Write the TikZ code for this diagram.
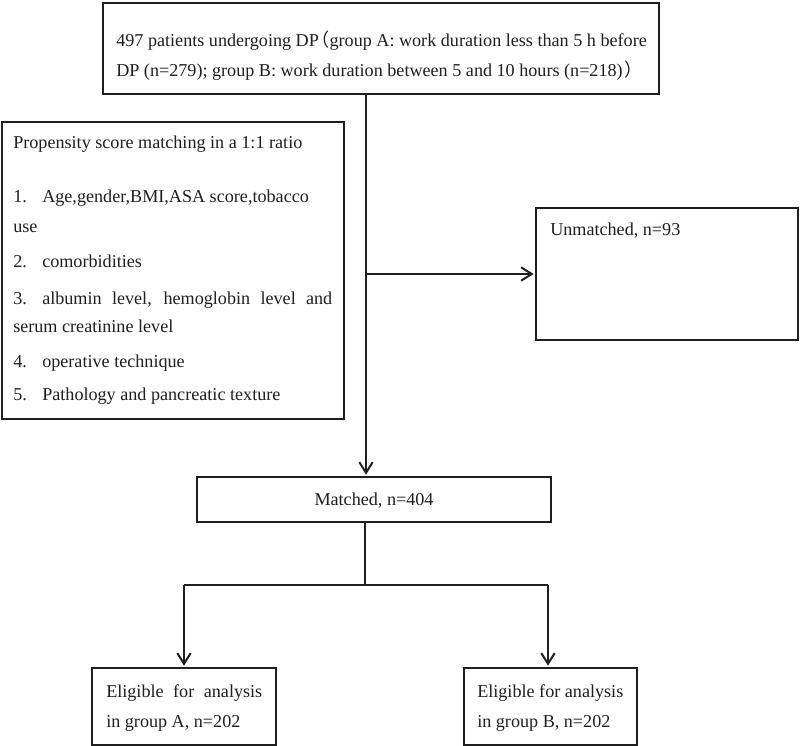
\documentclass[tikz,border=0pt]{standalone}
\usepackage{fontspec}
\setmainfont{Liberation Serif}
\newfontfamily\cjk{Noto Sans CJK SC}
\usetikzlibrary{arrows.meta,fit}
\newcommand\itemno[1]{\makebox[21.75pt][l]{#1}}
\newcommand\lpar{\makebox[8pt][l]{\hspace{-5.5pt}\cjk（}}
\newcommand\rpar{\makebox[8pt][l]{\hspace{1pt}\cjk）}}
\begin{document}
\begin{tikzpicture}[x=0.75pt,y=-0.75pt,
  box/.style={draw=black!88, line width=1.45pt, inner sep=0pt},
  txt/.style={inner sep=0pt, font=\fontsize{13.6}{16}\selectfont, text=black!88, anchor=base west},
  arr/.style={draw=black!88, line width=1.5pt, shorten >=1pt, -{Straight Barb[length=8pt,width=10pt,line width=1.5pt]}},
  ln/.style={draw=black!88, line width=1.1pt}]
\useasboundingbox[fill=white] (0,0) rectangle (800,746);
% boxes
\node[box, fit={(103,3) (659,94)}] (top) {};
\node[box, fit={(2,122) (344,419)}] (psm) {};
\node[box, fit={(536,208) (798,340)}] (unm) {};
\node[box, fit={(197,477) (551,522)}] (mat) {};
\node[box, fit={(92,668) (276,745)}] (ea) {};
\node[box, fit={(464,668) (637,745)}] (eb) {};
% texts
\node[txt] (t1) at (116,46) {497 patients undergoing DP\lpar group A: work duration less than 5 h before};
\node[txt] (t2) at (116,76) {DP (n=279); group B: work duration between 5 and 10 hours (n=218)\rpar};
\node[txt] (p0) at (13,148) {Propensity score matching in a 1:1 ratio};
\node[txt] (p1) at (13,202) {\itemno{1.}Age,gender,BMI,ASA score,tobacco};
\node[txt] (p1b) at (13,232) {use};
\node[txt] (p2) at (13,267) {\itemno{2.}comorbidities};
\node[txt] (p3) at (13,304) {\itemno{3.}\makebox[217.5pt][s]{albumin level, hemoglobin level and}};
\node[txt] (p3b) at (13,332) {serum creatinine level};
\node[txt] (p4) at (13,367) {\itemno{4.}operative technique};
\node[txt] (p5) at (13,400) {\itemno{5.}Pathology and pancreatic texture};
\node[txt] (ut) at (550,235) {Unmatched, n=93};
\node[txt, anchor=base] (mt) at (374,505) {Matched, n=404};
\node[txt] (ea1) at (106,697) {\makebox[117pt][s]{Eligible for analysis}};
\node[txt] (ea2) at (106,727) {in group A, n=202};
\node[txt] (eb1) at (477,697) {Eligible for analysis};
\node[txt] (eb2) at (477,727) {in group B, n=202};
% connectors
\coordinate (tx) at (366,0);
\draw[arr, line width=1.9pt] (top.south -| tx) -- (mat.north -| tx);
\draw[arr] (tx |- unm.west) -- (unm.west);
\coordinate (jn) at (365,585);
\coordinate (ja) at (184,585);
\coordinate (jb) at (548,585);
\draw[ln] (mat.south -| jn) -- (jn);
\draw[ln] (ja) -- (jb);
\draw[arr] (ja) -- (ea.north -| ja);
\draw[arr] (jb) -- (eb.north -| jb);
\end{tikzpicture}
\end{document}
